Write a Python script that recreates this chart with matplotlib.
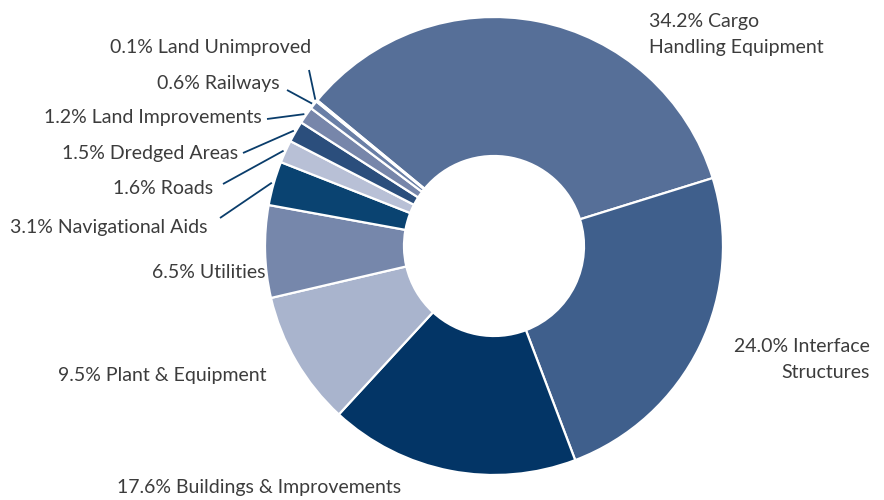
import numpy as np
import matplotlib
matplotlib.use("Agg")
import matplotlib.pyplot as plt

# asset categories and their share of the total (percent)
categories = [
    "Cargo\nHandling Equipment", "Interface\nStructures", "Buildings & Improvements",
    "Plant & Equipment", "Utilities", "Navigational Aids", "Roads",
    "Dredged Areas", "Land Improvements", "Railways", "Land Unimproved",
]
shares = [34.2, 24.0, 17.6, 9.5, 6.5, 3.1, 1.6, 1.5, 1.2, 0.6, 0.1]
colors = [
    "#566f98", "#3f5f8c", "#033566", "#a9b4cd", "#7687ab", "#0a4371",
    "#b8c0d6", "#2b4e7c", "#7786aa", "#6a7fa6", "#c4cbdc",
]

plt.rcParams["font.family"] = ["Lato", "DejaVu Sans"]

W, H = 884, 500
fig = plt.figure(figsize=(W / 100, H / 100), dpi=100)
ax = fig.add_axes([0, 0, 1, 1])

cx, cy = 494, H - 246
r_out, r_in = 229, 90

wedges, _ = ax.pie(
    shares, colors=colors, startangle=140.5, counterclock=False,
    radius=r_out, center=(cx, cy),
    wedgeprops=dict(width=r_out - r_in, edgecolor="white", linewidth=1.6),
)
ax.set_xlim(0, W)
ax.set_ylim(0, H)
ax.set_aspect("equal")
ax.set_axis_off()

txt = dict(fontsize=14, color="#3c3c3c", fontweight="normal", va="center")

def label(x, y, s, ha="left"):
    ax.text(x, H - y, s, ha=ha, **txt)

# big slices: plain labels
label(649, 22, "%.1f%% Cargo" % shares[0])
label(649, 48, "Handling Equipment")
label(870, 346, "%.1f%% Interface" % shares[1], ha="right")
label(870, 372, "Structures", ha="right")
label(259, 488, "%.1f%% %s" % (shares[2], categories[2]), ha="center")
label(266, 375, "%.1f%% %s" % (shares[3], categories[3]), ha="right")
label(266, 272, "%.1f%% %s" % (shares[4], categories[4]), ha="right")

# small slices: labels with leader lines to the wedge edge
small = [
    (5, 207, 227, (220, 218)),
    (6, 213, 188, (223, 184)),
    (7, 238, 153, (243, 153)),
    (8, 262, 117, (267, 119)),
    (9, 280, 83, (287, 90)),
    (10, 311, 48, (309, 70)),
]
for i, tx, ty, (lx, ly) in small:
    label(tx, ty, "%.1f%% %s" % (shares[i], categories[i]), ha="right")
    w = wedges[i]
    mid = np.deg2rad((w.theta1 + w.theta2) / 2)
    ex = cx + (r_out + 2) * np.cos(mid)
    ey = cy + (r_out + 2) * np.sin(mid)
    ax.plot([lx, ex], [H - ly, ey], color="#0a3d6b", lw=1.3,
            solid_capstyle="butt")

fig.savefig("out.png", dpi=100)
